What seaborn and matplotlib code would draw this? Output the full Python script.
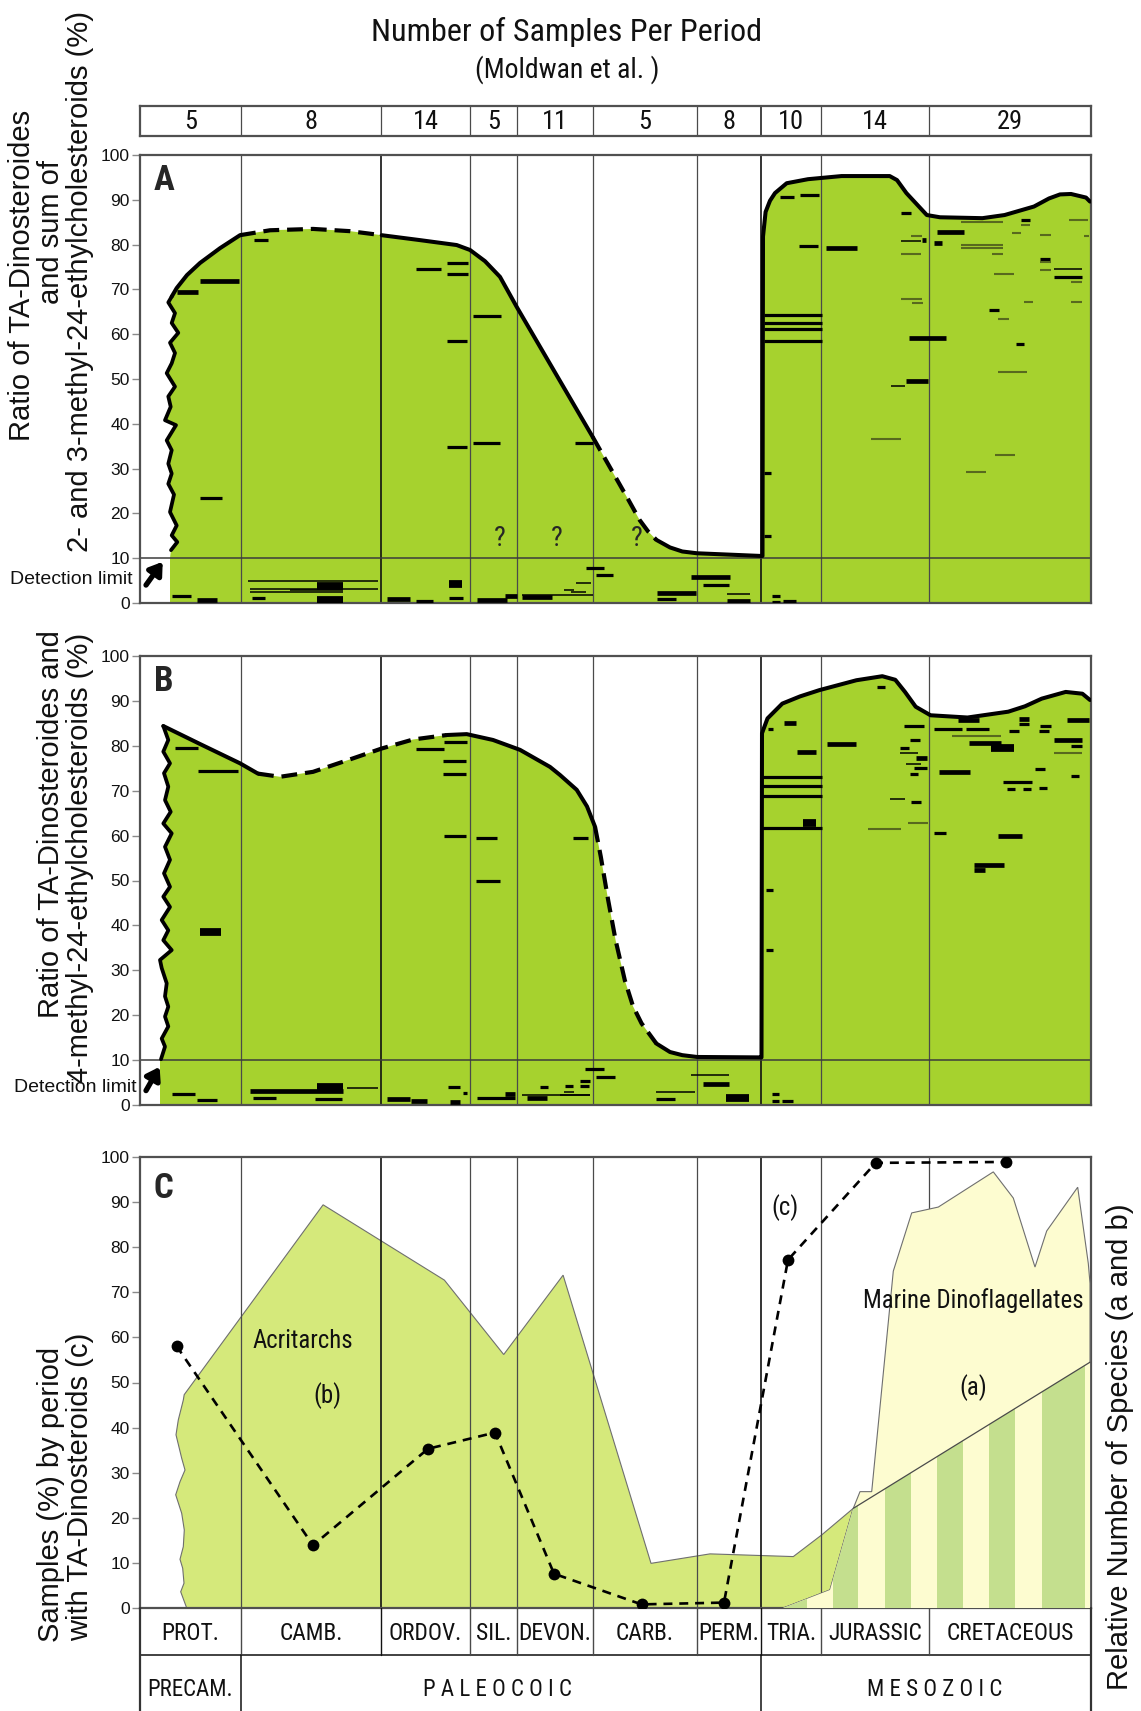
import numpy as np
import matplotlib
matplotlib.use("Agg")
import matplotlib.pyplot as plt
from matplotlib import font_manager
from matplotlib.patches import Polygon
import seaborn as sns

# ---------------------------------------------------------------- data
period_labels = ["PROT.", "CAMB.", "ORDOV.", "SIL.", "DEVON.", "CARB.",
                 "PERM.", "TRIA.", "JURASSIC", "CRETACEOUS"]
period_edges = [0, 101, 241, 330, 377, 453, 557, 621, 681, 789, 951]
samples_per_period = [5, 8, 14, 5, 11, 5, 8, 10, 14, 29]
era_labels = ["PRECAM.", "P A L E O C O I C", "M E S O Z O I C"]
era_edges = [0, 101, 621, 951]
era_label_pos = [50, 357, 795]

A_wavy = [(31, 11.8), (37.3, 13.6), (31.7, 15.1), (36.7, 17.3), (30, 20.3), (34, 24.2),
          (28.3, 26.6), (31.7, 28.9), (28.3, 31.1), (31.7, 34.1), (26.7, 36.3), (36, 39.7),
          (25, 40.8), (30.7, 43.8), (28.3, 46.1), (35, 48.3), (26.7, 51.3), (31.7, 53.5),
          (35, 55.8), (30, 58.1), (38.3, 60.3), (31.7, 62.5), (35, 64.7), (28.3, 67.1),
          (31.7, 68.4)]
A_top = [(31.7, 68.4), (36.7, 70.3), (47, 73.2), (60, 75.9), (80, 79.2), (100, 82.1),
         (130, 83.2), (173, 83.5), (210, 83.0), (241.7, 82.1), (280, 81.0), (316.7, 79.9),
         (330, 78.8), (345, 76.3), (360, 72.8), (376.7, 66.1), (452.6, 37.1), (488.5, 23.0),
         (499.7, 18.5), (508, 16.0), (516.3, 14.1), (530, 12.4), (542.3, 11.5), (557, 11.1),
         (621, 10.5), (622.5, 10.5), (623, 81.8), (625.6, 87.3), (630, 89.8), (635, 91.5),
         (646.7, 93.7), (668, 94.6), (701.6, 95.3), (749.7, 95.3), (757, 94.4), (766.4, 91.5),
         (786.8, 86.6), (800, 86.1), (842.4, 85.9), (864.6, 86.6), (894, 88.5), (909, 90.3),
         (920, 91.2), (931, 91.3), (946, 90.5), (950, 89.6)]
A_dashed_spans = [(100, 241.7), (452.6, 516.3)]
A_solid_spans = [(31.7, 100), (241.7, 452.6), (516.3, 950)]

bars_A = [
    (37, 58, 69.5, 'b'), (60, 99, 71.9, 'b'), (60, 82, 23.4, 'n'), (114, 128, 81.0, 'n'),
    (276, 301, 74.5, 'n'), (307, 328, 76.0, 'n'), (307, 328, 73.4, 'n'), (333, 361, 64.1, 'n'),
    (307, 327, 58.5, 'n'), (307, 327, 34.9, 'n'), (333, 360, 35.8, 'n'), (435, 453, 35.8, 'n'),
    (32, 51, 1.6, 'n'), (57, 77, 0.6, 'b'), (108, 238, 4.9, 't'), (110, 238, 3.1, 't'),
    (110, 203, 2.5, 't'), (150, 203, 2.8, 't'), (177, 203, 3.9, 'k'), (177, 203, 0.6, 'k'),
    (112, 125, 1.1, 'n'), (247, 270, 0.9, 'b'), (276, 293, 0.5, 'n'), (309, 322, 4.2, 'k'),
    (309, 323, 1.1, 'n'), (337, 367, 0.6, 'b'), (365, 377, 1.5, 'b'), (382, 412, 1.3, 'b'),
    (382, 453, 1.7, 't'), (446, 464, 7.9, 'n'), (456, 473, 6.2, 'n'), (424, 434, 3.0, 't'),
    (436, 451, 4.5, 't'), (431, 446, 2.4, 't'),
    (517, 556, 2.3, 'b'), (517, 536, 0.8, 'n'), (551, 590, 5.8, 'b'), (563, 589, 4.1, 'n'),
    (587, 610, 1.9, 't'), (587, 610, 0.4, 'b'), (632, 640, 1.6, 'n'), (632, 640, 0.3, 'n'),
    (643, 656, 0.5, 'n'),
    (640, 654, 90.6, 'n'), (660, 679, 91.0, 'n'), (659, 678, 79.7, 'n'), (686, 717, 79.3, 'b'),
    (624, 682, 64.3, 'n'), (624, 682, 62.6, 'n'), (624, 682, 61.1, 'n'), (624, 682, 58.5, 'n'),
    (624, 631, 29.1, 'n'), (624, 631, 15.0, 'n'),
    (739, 748, 95.0, 'g'), (761, 771, 87.1, 'n'), (771, 782, 82.0, 'g'), (761, 781, 80.7, 't'),
    (782, 786, 81.0, 'b'), (761, 781, 77.9, 'g'), (761, 782, 67.9, 'g'), (772, 783, 67.0, 'g'),
    (769, 806, 59.1, 'b'), (766, 788, 49.6, 'b'), (751, 765, 48.5, 't'), (731, 761, 36.5, 'g'),
    (797, 824, 82.9, 'b'), (794, 802, 80.3, 'b'), (821, 863, 85.1, 'g'), (821, 863, 79.9, 'g'),
    (821, 863, 79.3, 'g'), (852, 863, 78.0, 'g'), (872, 881, 82.5, 'g'), (881, 890, 85.5, 'n'),
    (881, 890, 84.4, 'g'), (900, 911, 82.1, 'g'), (900, 910, 76.7, 'n'), (900, 911, 76.1, 'g'),
    (900, 911, 74.4, 'g'), (914, 942, 74.5, 't'), (914, 942, 72.8, 'n'), (931, 942, 71.7, 'g'),
    (929, 948, 85.5, 'g'), (854, 874, 73.5, 'g'), (884, 893, 67.2, 'g'), (931, 942, 67.2, 'g'),
    (849, 859, 65.3, 'n'), (858, 869, 63.4, 'g'), (876, 884, 57.8, 'n'), (858, 887, 51.5, 'g'),
    (855, 875, 33.1, 'g'), (826, 846, 29.3, 'g'), (944, 949, 82.0, 'g'),
]
A_queries = [360, 417, 497]

B_wavy = [(21, 10.2), (25, 13.0), (21.7, 14.8), (28.3, 17.5), (25, 19.7), (28.3, 21.9),
          (25, 24.2), (26.7, 27.1), (21.7, 30.5), (20, 32.3), (31.7, 34.5), (23.3, 36.7),
          (28.3, 38.9), (21.7, 41.2), (30, 44.1), (23.3, 46.4), (30, 48.6), (24, 51.6),
          (30, 54.6), (25, 57.5), (31.7, 60.5), (23.3, 62.7), (30.7, 65.3), (25, 67.9),
          (28.3, 70.9), (24, 73.9), (30, 76.1), (23.3, 78.7), (28.3, 81.3), (23.3, 84.4)]
B_top = [(23.3, 84.4), (60, 80.4), (100, 76.1), (118, 73.8), (140, 73.1), (173, 74.2),
         (213, 77.2), (241.7, 79.4), (273, 81.4), (306.7, 82.4), (326.7, 82.6), (353, 81.3),
         (380, 79.1), (410, 75.3), (420, 73.5), (436.7, 70.2), (447, 66.5), (455, 62.0),
         (460.8, 55.3), (468.2, 45.6), (475.6, 36.7), (484.8, 27.8), (493, 22.0), (501.5, 18.2),
         (516.3, 13.7), (530, 11.8), (542.3, 11.1), (557, 10.7), (621, 10.6), (621.5, 10.6),
         (622, 82.8), (627.5, 86.1), (642.3, 89.4), (660, 91.0), (679.4, 92.4), (716.4, 94.6),
         (742.3, 95.5), (755.3, 94.7), (765, 92.0), (775.7, 88.7), (790.5, 86.8), (827.5, 86.3),
         (868.3, 87.6), (885, 88.8), (901.7, 90.5), (925.7, 92.0), (942.4, 91.6), (950, 90.2)]
B_dashed_spans = [(118, 306.7), (455, 516.3)]
B_solid_spans = [(23.3, 118), (306.7, 455), (516.3, 950)]

bars_B = [
    (35, 58, 79.4, 'n'), (58, 98, 74.4, 'n'), (60, 81, 38.6, 'k'), (276, 304, 79.2, 'n'),
    (304, 327, 80.9, 'n'), (303, 326, 76.7, 'n'), (303, 326, 73.7, 'n'), (304, 326, 59.8, 'n'),
    (336, 357, 59.5, 'n'), (336, 360, 50.0, 'n'), (433, 448, 59.4, 'n'),
    (32, 55, 2.4, 'n'), (57, 77, 1.1, 'n'), (110, 203, 3.1, 'b'), (177, 203, 4.0, 'k'),
    (207, 238, 3.8, 't'), (113, 136, 1.5, 'n'), (175, 202, 1.4, 'n'), (247, 270, 1.4, 'b'),
    (271, 287, 0.9, 'b'), (308, 320, 4.0, 'n'), (310, 320, 0.7, 'b'), (323, 327, 2.6, 'n'),
    (337, 375, 1.5, 'n'), (365, 375, 2.4, 'b'), (382, 450, 2.3, 't'), (387, 407, 1.5, 'b'),
    (400, 408, 4.0, 'n'), (425, 433, 4.2, 'n'), (440, 450, 5.4, 'n'), (440, 449, 4.2, 'n'),
    (424, 434, 2.9, 't'), (445, 464, 8.0, 'n'), (456, 475, 6.3, 'n'), (420, 450, 2.2, 't'),
    (551, 589, 6.6, 't'), (563, 589, 4.6, 'b'), (516, 555, 2.8, 't'), (516, 535, 1.4, 'n'),
    (586, 609, 1.6, 'k'), (632, 639, 2.5, 'n'), (632, 639, 1.0, 'n'), (642, 653, 0.8, 'n'),
    (644, 656, 85.0, 'b'), (628, 633, 83.7, 'n'), (657, 676, 78.7, 'b'), (687, 716, 80.4, 'b'),
    (622, 682, 73.1, 'n'), (622, 682, 71.1, 'n'), (622, 682, 68.8, 'n'), (622, 682, 61.8, 'n'),
    (663, 676, 62.8, 'k'), (626, 633, 47.9, 'n'), (626, 633, 34.5, 'n'),
    (737, 745, 93.2, 'n'), (764, 784, 84.3, 'n'), (770, 780, 81.3, 'n'), (760, 769, 79.6, 'n'),
    (760, 778, 78.3, 't'), (776, 787, 77.2, 'b'), (766, 781, 76.0, 't'), (774, 787, 75.0, 'n'),
    (770, 778, 73.7, 'n'), (750, 765, 68.2, 't'), (771, 781, 67.4, 'n'), (728, 761, 61.5, 'g'),
    (768, 788, 62.7, 'g'),
    (794, 822, 83.7, 'n'), (818, 839, 85.8, 'b'), (826, 849, 83.8, 'n'), (812, 861, 82.1, 'g'),
    (829, 861, 80.6, 'b'), (851, 874, 79.6, 'k'), (799, 830, 74.1, 'b'), (879, 889, 86.0, 'b'),
    (879, 889, 84.8, 'n'), (869, 879, 83.2, 'n'), (900, 911, 84.5, 'n'), (899, 909, 83.2, 'n'),
    (927, 949, 85.8, 'b'), (914, 942, 81.3, 'b'), (931, 942, 80.0, 'n'), (914, 942, 78.3, 'g'),
    (895, 905, 74.8, 'n'), (931, 939, 73.2, 'n'), (863, 892, 71.9, 'n'), (867, 875, 70.3, 'n'),
    (883, 891, 70.3, 'n'), (899, 907, 70.6, 'n'), (794, 806, 60.6, 'n'), (858, 882, 59.9, 'b'),
    (834, 864, 53.4, 'b'), (834, 845, 52.4, 'b'),
]

acritarchs = [(46.7, 0), (40.7, 3.6), (44, 5.5), (42.7, 8.8), (40, 10.8), (43.3, 13.6),
              (44.3, 17.3), (41.7, 21.0), (35.7, 25.1), (40, 28.0), (45, 30.6), (41.7, 33.2),
              (36, 38.4), (38.3, 41.7), (43.3, 46.1), (44.2, 47.3), (183.1, 89.4), (304.4, 72.7),
              (363.7, 56.2), (423.1, 73.8), (511, 9.9), (570, 12.0), (653.3, 11.4),
              (681.7, 16.2), (713.3, 22.1), (690, 4.0), (643.3, 0)]
dinoflagellates = [(643.3, 0), (690, 4.0), (713.3, 22.1), (720, 25.8), (731.7, 25.8),
                   (753.3, 74.7), (771.7, 87.6), (798.3, 88.9), (853.3, 96.7), (873.3, 90.9),
                   (895, 75.6), (906.7, 83.6), (937.7, 93.3), (948.3, 76.4), (950, 72), (950, 0)]
cysts_line = [(713.3, 22.1), (950, 54.5)]
cysts = [(643.3, 0), (690, 4.0), (713.3, 22.1), (950, 54.5), (950, 0)]
cyst_bands = [(641, 667), (693, 718), (745, 771), (797, 823), (849, 875), (902, 945)]
c_pos = [36.5, 173, 288, 355, 414, 501.5, 584, 648, 735.7, 866]
c_vals = [58.1, 13.9, 35.3, 38.9, 7.6, 0.8, 1.2, 77.2, 98.7, 98.9]

# ---------------------------------------------------------------- style
sns.set_theme(style="white")


def _installed(name):
    try:
        font_manager.findfont(name, fallback_to_default=False)
        return True
    except Exception:
        return False


HAS_NARROW = _installed("Roboto Condensed")
REG = ["Liberation Sans", "DejaVu Sans"]
NAR = ["Roboto Condensed", "Liberation Sans", "DejaVu Sans"] if HAS_NARROW else REG
plt.rcParams["font.family"] = REG


def nsz(s):
    # condensed face sizes; the regular face needs a smaller size for the same width
    return s if HAS_NARROW else s * 0.88


GREEN = "#a6d22e"
ACR = "#d5e97b"
CREAM = "#fdfcd0"
STRIPE = "#c4df8e"
GRID = "#4a4a4a"
DARK_EDGES = (241, 621)
BAR_STYLE = {'b': ("black", 3.4), 'n': ("black", 2.3), 't': ("black", 1.1),
             'k': ("black", 5.6), 'g': ("#58691e", 1.5)}

W, H = 1141, 1711
XMAX = 951
fig = plt.figure(figsize=(W / 100, H / 100), dpi=100)
fig.patch.set_facecolor("white")


def px_axes(x0, y0, x1, y1):
    return fig.add_axes([x0 / W, 1 - y1 / H, (x1 - x0) / W, (y1 - y0) / H])


def frame(ax):
    ax.set_xlim(0, XMAX)
    ax.set_ylim(0, 100)
    ax.set_xticks([])
    ax.set_yticks(range(0, 101, 10))
    ax.tick_params(axis="y", left=True, length=6, width=1.0, color="#8a8a8a",
                   labelcolor="#111", labelsize=12.5, pad=1.5)
    for s in ax.spines.values():
        s.set_color("#505050")
        s.set_linewidth(1.6)
    ax.set_facecolor("white")


def period_lines(ax, z):
    for e in period_edges[1:-1]:
        dark = e in DARK_EDGES
        ax.axvline(e, color="#111" if dark else GRID, lw=1.2 if dark else 0.9, zorder=z)


def envelope(ax, wavy, top, solid_spans, dashed_spans, bars, arrow_from, arrow_to):
    wx, wy = zip(*wavy)
    tx, ty = np.array(top).T
    fx = [wx[0] - 1, wx[0] - 1] + list(wx) + list(tx[1:]) + [950]
    fy = [0, 10] + list(wy) + list(ty[1:]) + [0]
    ax.fill(fx, fy, color=GREEN, lw=0, zorder=1)
    period_lines(ax, 2)
    ax.axhline(10, color="#3c3c3c", lw=1.1, zorder=2)
    for x0, x1, v, kind in bars:
        col, lw = BAR_STYLE[kind]
        ax.hlines(v, x0, x1, color=col, lw=lw, zorder=4, capstyle="butt")
    ax.plot(wx, wy, color="black", lw=2.7, zorder=5, solid_joinstyle="round")
    for x0, x1 in solid_spans:
        m = (tx >= x0) & (tx <= x1)
        ax.plot(tx[m], ty[m], color="black", lw=2.9, zorder=5,
                solid_capstyle="round", solid_joinstyle="round")
    for x0, x1 in dashed_spans:
        m = (tx >= x0) & (tx <= x1)
        ax.plot(tx[m], ty[m], color="black", lw=3.0, zorder=5, linestyle=(0, (3.8, 1.9)))
    ax.annotate("", xy=arrow_to, xytext=arrow_from, zorder=6,
                arrowprops=dict(arrowstyle="-|>,head_length=0.6,head_width=0.4",
                                color="black", lw=3.8, shrinkA=0, shrinkB=0))


# ---------------------------------------------------------------- header
fig.text(567 / W, 1 - 32 / H, "Number of Samples Per Period", ha="center", va="center",
         family=NAR, fontsize=nsz(23.2), color="#111")
fig.text(567 / W, 1 - 70 / H, "(Moldwan et al. )", ha="center", va="center",
         family=NAR, fontsize=nsz(20), color="#111")

axh = px_axes(140, 106, 1091, 136)
axh.set_xlim(0, XMAX)
axh.set_ylim(0, 1)
axh.set_xticks([])
axh.set_yticks([])
for s in axh.spines.values():
    s.set_color("#505050")
    s.set_linewidth(1.6)
for e in period_edges[1:-1]:
    axh.axvline(e, color="#111" if e == 621 else GRID, lw=1.1 if e == 621 else 0.9)
for i, n in enumerate(samples_per_period):
    axh.text((period_edges[i] + period_edges[i + 1]) / 2, 0.48, str(n), ha="center",
             va="center", family=NAR, fontsize=nsz(19), color="#111")

# ---------------------------------------------------------------- panel A
axA = px_axes(140, 155, 1091, 603)
frame(axA)
envelope(axA, A_wavy, A_top, A_solid_spans, A_dashed_spans, bars_A, (6.0, 4.0), (22.7, 9.2))
for q in A_queries:
    axA.text(q, 14.5, "?", ha="center", va="center", family=NAR, fontsize=nsz(20), zorder=6)
axA.text(23.6, 94.2, "A", ha="center", va="center", family=NAR, fontsize=nsz(25),
         fontweight="bold", zorder=6)
fig.text(133 / W, 1 - 580 / H, "Detection limit", ha="right", va="center", fontsize=14,
         color="#111")

# ---------------------------------------------------------------- panel B
axB = px_axes(140, 656, 1091, 1105)
frame(axB)
envelope(axB, B_wavy, B_top, B_solid_spans, B_dashed_spans, bars_B, (6.0, 3.2), (19.6, 8.5))
axB.text(23.6, 94.3, "B", ha="center", va="center", family=NAR, fontsize=nsz(25),
         fontweight="bold", zorder=6)
fig.text(137 / W, 1 - 1088 / H, "Detection limit", ha="right", va="center", fontsize=14,
         color="#111")

# ---------------------------------------------------------------- panel C
axC = px_axes(140, 1157, 1091, 1608)
frame(axC)
axC.fill(*zip(*acritarchs), facecolor=ACR, edgecolor="#6f6f6f", lw=0.8, zorder=1)
period_lines(axC, 2)
axC.fill(*zip(*dinoflagellates), facecolor=CREAM, edgecolor="#6f6f6f", lw=0.8, zorder=3)
clip = Polygon(cysts, closed=True, facecolor=CREAM, edgecolor="none",
               transform=axC.transData, zorder=3.5)
axC.add_patch(clip)
for x0, x1 in cyst_bands:
    band = axC.axvspan(x0, x1, color=STRIPE, lw=0, zorder=3.6)
    band.set_clip_path(clip)
axC.plot(*zip(*cysts_line), color="#4a4a4a", lw=0.9, zorder=4)
sns.lineplot(x=c_pos, y=c_vals, ax=axC, color="black", lw=1.9, sort=False,
             linestyle=(0, (3.4, 2.6)), marker="o", markersize=8.5, markeredgewidth=0,
             zorder=6)
axC.set_xlim(0, XMAX)
axC.set_ylim(0, 100)
axC.text(23.6, 93.1, "C", ha="center", va="center", family=NAR, fontsize=nsz(25),
         fontweight="bold", zorder=7)
lab = dict(ha="center", va="center", family=NAR, fontsize=nsz(17.9), color="#111", zorder=7)
axC.text(163, 59.2, "Acritarchs", **lab)
axC.text(187, 47.2, "(b)", **lab)
axC.text(645, 88.8, "(c)", **lab)
axC.text(833, 68.1, "Marine Dinoflagellates", **lab)
axC.text(833, 48.9, "(a)", **lab)

# ---------------------------------------------------------------- period / era table
axT = px_axes(140, 1608, 1091, 1711)
axT.set_xlim(0, XMAX)
axT.set_ylim(103, 0)
axT.axis("off")
ROW = 47
axT.plot([0, XMAX], [ROW, ROW], color="#333", lw=1.3, clip_on=False)
for x in (0, XMAX):
    axT.plot([x, x], [0, 103], color="#333", lw=1.6, clip_on=False)
for e in period_edges[1:-1]:
    axT.plot([e, e], [0, ROW], color="#111" if e in DARK_EDGES else GRID, lw=1.0)
for e in era_edges[1:-1]:
    axT.plot([e, e], [ROW, 103], color="#111", lw=1.1)
for i, name in enumerate(period_labels):
    axT.text((period_edges[i] + period_edges[i + 1]) / 2, 25, name, ha="center",
             va="center", family=NAR, fontsize=nsz(16.9), color="#111")
for name, xpos in zip(era_labels, era_label_pos):
    axT.text(xpos, 81, name, ha="center", va="center", family=NAR, fontsize=nsz(16.5),
             color="#111")

# ---------------------------------------------------------------- axis titles
ylab = dict(rotation=90, ha="center", va="center", fontsize=21, color="#111")
fig.text(22 / W, 1 - 275 / H, "Ratio of TA-Dinosteroides", **ylab)
fig.text(51 / W, 1 - 232 / H, "and sum of", **ylab)
fig.text(80 / W, 1 - 282 / H, "2- and 3-methyl-24-ethylcholesteroids (%)", **ylab)
fig.text(51 / W, 1 - 824 / H, "Ratio of TA-Dinosteroides and", **ylab)
fig.text(80 / W, 1 - 858 / H, "4-methyl-24-ethylcholesteroids (%)", **ylab)
fig.text(51 / W, 1 - 1494 / H, "Samples (%) by period", **ylab)
fig.text(80 / W, 1 - 1487 / H, "with TA-Dinosteroids (c)", **ylab)
fig.text(1120 / W, 1 - 1447 / H, "Relative Number of Species (a and b)", **ylab)

fig.savefig("out.png", dpi=100, facecolor="white")
